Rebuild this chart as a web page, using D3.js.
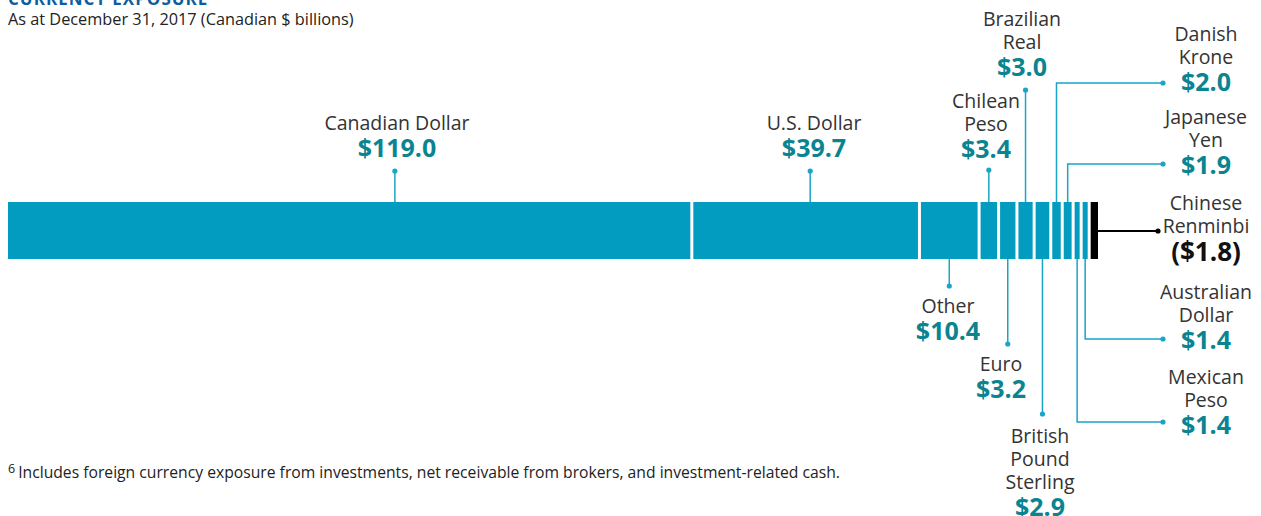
<!DOCTYPE html>
<html>
<head>
<meta charset="utf-8">
<script src="https://cdn.jsdelivr.net/npm/d3@7"></script>
<style>
  body { margin: 0; background: #fff; }
  svg { display: block; font-family: "Open Sans", sans-serif; }
</style>
</head>
<body>
<div id="chart"></div>
<script>
// Currency exposure data (Canadian $ billions)
const currencies = ["Canadian Dollar", "U.S. Dollar", "Other", "Chilean Peso", "Euro", "Brazilian Real",
    "British Pound Sterling", "Danish Krone", "Japanese Yen", "Mexican Peso", "Australian Dollar", "Chinese Renminbi"];
const values = [119.0, 39.7, 10.4, 3.4, 3.2, 3.0, 2.9, 2.0, 1.9, 1.4, 1.4, -1.8];
// how each name is broken over lines
const nameLines = [["Canadian Dollar"], ["U.S. Dollar"], ["Other"], ["Chilean", "Peso"], ["Euro"], ["Brazilian", "Real"],
    ["British", "Pound", "Sterling"], ["Danish", "Krone"], ["Japanese", "Yen"], ["Mexican", "Peso"], ["Australian", "Dollar"], ["Chinese", "Renminbi"]];

const WIDTH = 1261;
const HEIGHT = 516;
const BAR_TOP = 202;
const BAR_H = 57;
const GAP = 3;

const BAR_COLOR = "#029cc0";
const LINE_COLOR = "#1aa4c6";
const VALUE_COLOR = "#0a8490";
const TEXT_COLOR = "#333";

// label placement (annotation layout only)
const labelLayout = [
    { side: "top", anchor: 0.567, dotY: 171, tx: 397, ty: 130 },
    { side: "top", anchor: 0.52, dotY: 171, tx: 814, ty: 130 },
    { side: "bottom", dotY: 286, tx: 948, ty: 313 },
    { side: "top", dotY: 170, tx: 986, ty: 108 },
    { side: "bottom", dotY: 344, tx: 1001, ty: 371 },
    { side: "top", dotY: 90, tx: 1022, ty: 26 },
    { side: "bottom", dotY: 414, tx: 1040, ty: 443 },
    { side: "top", elbowY: 83, tx: 1206, ty: 41 },
    { side: "top", elbowY: 164, tx: 1206, ty: 124 },
    { side: "bottom", elbowY: 422, tx: 1206, ty: 384 },
    { side: "bottom", elbowY: 339, tx: 1206, ty: 299 },
    { side: "right", elbowY: 231, tx: 1206, ty: 210 }
];

const svg = d3.select("#chart")
    .append("svg")
    .attr("width", WIDTH)
    .attr("height", HEIGHT);

// stack segments by absolute value
let acc = 0;
const segments = values.map((v, i) => {
    const s = { name: currencies[i], value: v, x0: acc, x1: acc + Math.abs(v), i: i };
    acc += Math.abs(v);
    return s;
});

const x = d3.scaleLinear()
    .domain([0, acc])
    .range([8, 1098]);

// title (cut off at the top) + subtitle
svg.append("text")
    .attr("x", 8)
    .attr("y", 5)
    .attr("fill", "#0d5d9f")
    .style("font-size", "17px")
    .style("font-weight", 700)
    .style("letter-spacing", "1px")
    .text("CURRENCY EXPOSURE");

svg.append("text")
    .attr("x", 8)
    .attr("y", 25)
    .attr("fill", "#222")
    .style("font-size", "16.3px")
    .text("As at December 31, 2017 (Canadian $ billions)");

// bar segments
svg.selectAll(".seg")
    .data(segments)
    .enter()
    .append("rect")
    .attr("class", "seg")
    .attr("x", d => d.i === 0 ? x(d.x0) : x(d.x0) + GAP)
    .attr("y", BAR_TOP)
    .attr("width", d => x(d.x1) - x(d.x0) - (d.i === 0 ? 0 : GAP))
    .attr("height", BAR_H)
    .attr("fill", d => d.value < 0 ? "#000" : BAR_COLOR);

// leaders + labels
const fmt = v => v < 0 ? `($${Math.abs(v).toFixed(1)})` : `$${v.toFixed(1)}`;

segments.forEach(d => {
    const L = labelLayout[d.i];
    const neg = d.value < 0;
    const lc = neg ? "#000" : LINE_COLOR;
    const ax = x(d.x0) + (x(d.x1) - x(d.x0)) * (L.anchor || 0.5) + (d.i === 0 ? 0 : GAP / 2);
    let pts;
    if (L.side === "right") {
        pts = [[x(d.x1), L.elbowY], [1158, L.elbowY]];
    } else {
        const edge = L.side === "top" ? BAR_TOP : BAR_TOP + BAR_H;
        if (L.elbowY != null) {
            pts = [[ax, edge], [ax, L.elbowY], [1163, L.elbowY]];
        } else {
            pts = [[ax, edge], [ax, L.dotY]];
        }
    }
    svg.append("path")
        .attr("d", d3.line()(pts))
        .attr("fill", "none")
        .attr("stroke", lc)
        .attr("stroke-width", neg ? 2 : 1.5);
    const end = pts[pts.length - 1];
    svg.append("circle")
        .attr("cx", end[0])
        .attr("cy", end[1])
        .attr("r", 2.6)
        .attr("fill", lc);

    const lines = nameLines[d.i];
    const t = svg.append("g").attr("text-anchor", "middle");
    lines.forEach((ln, k) => {
        t.append("text")
            .attr("x", L.tx)
            .attr("y", L.ty + k * 23)
            .attr("fill", TEXT_COLOR)
            .style("font-size", "19.5px")
            .text(ln);
    });
    t.append("text")
        .attr("x", L.tx)
        .attr("y", L.ty + (lines.length - 1) * 23 + (neg ? 28 : 27))
        .attr("fill", neg ? "#111" : VALUE_COLOR)
        .style("font-size", neg ? "26px" : "25px")
        .style("font-weight", 700)
        .text(fmt(d.value));
});

// footnote
const fn = svg.append("text")
    .attr("x", 8)
    .attr("y", 478)
    .attr("fill", "#222")
    .style("font-size", "15.7px");
fn.append("tspan")
    .attr("dy", -5)
    .style("font-size", "12.5px")
    .text("6");
fn.append("tspan")
    .attr("dy", 5)
    .attr("dx", 3)
    .text("Includes foreign currency exposure from investments, net receivable from brokers, and investment-related cash.");
</script>
</body>
</html>
